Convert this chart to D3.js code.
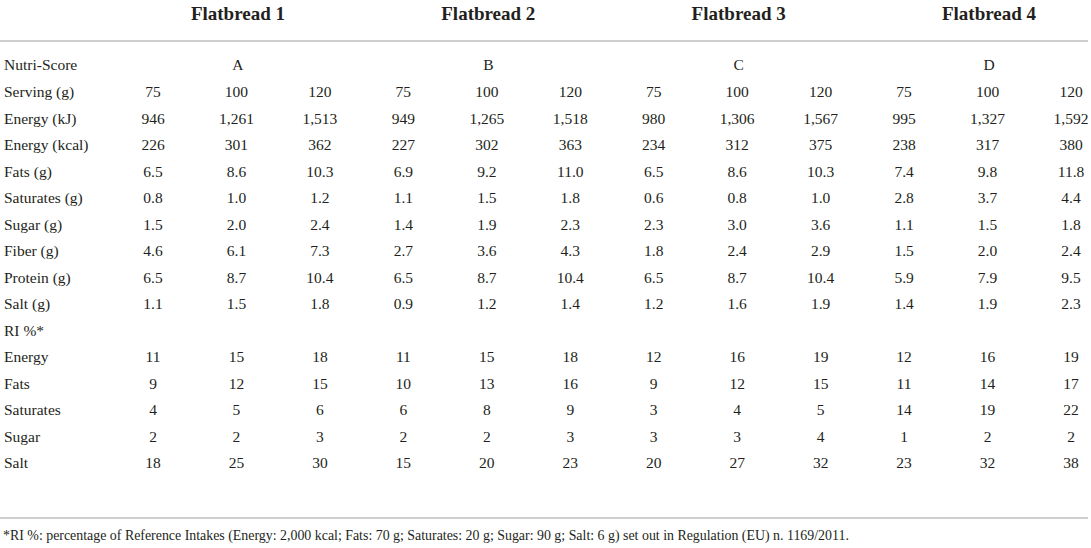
<!DOCTYPE html>
<html>
<head>
<meta charset="utf-8">
<script src="https://cdn.jsdelivr.net/npm/d3@7/dist/d3.min.js"></script>
<style>
  html, body { margin: 0; padding: 0; background: #fff; }
  svg { display: block; }
  text { font-family: "Liberation Serif", "DejaVu Serif", serif; fill: #231f20; }
</style>
</head>
<body>
<svg id="chart" width="1091" height="548"></svg>
<script>
// ---- data ----
const flatbreads = ["Flatbread 1", "Flatbread 2", "Flatbread 3", "Flatbread 4"];
const nutriScores = ["A", "B", "C", "D"];
const servings = [75, 100, 120];

const nutrientLabels = ["Energy (kJ)", "Energy (kcal)", "Fats (g)", "Saturates (g)", "Sugar (g)", "Fiber (g)", "Protein (g)", "Salt (g)"];
const nutrientFormats = [",", "d", ".1f", ".1f", ".1f", ".1f", ".1f", ".1f"];
const energyKJ   = [946, 1261, 1513, 949, 1265, 1518, 980, 1306, 1567, 995, 1327, 1592];
const energyKcal = [226, 301, 362, 227, 302, 363, 234, 312, 375, 238, 317, 380];
const fats       = [6.5, 8.6, 10.3, 6.9, 9.2, 11.0, 6.5, 8.6, 10.3, 7.4, 9.8, 11.8];
const saturates  = [0.8, 1.0, 1.2, 1.1, 1.5, 1.8, 0.6, 0.8, 1.0, 2.8, 3.7, 4.4];
const sugar      = [1.5, 2.0, 2.4, 1.4, 1.9, 2.3, 2.3, 3.0, 3.6, 1.1, 1.5, 1.8];
const fiber      = [4.6, 6.1, 7.3, 2.7, 3.6, 4.3, 1.8, 2.4, 2.9, 1.5, 2.0, 2.4];
const protein    = [6.5, 8.7, 10.4, 6.5, 8.7, 10.4, 6.5, 8.7, 10.4, 5.9, 7.9, 9.5];
const salt       = [1.1, 1.5, 1.8, 0.9, 1.2, 1.4, 1.2, 1.6, 1.9, 1.4, 1.9, 2.3];

const riLabels = ["Energy", "Fats", "Saturates", "Sugar", "Salt"];
const riEnergy    = [11, 15, 18, 11, 15, 18, 12, 16, 19, 12, 16, 19];
const riFats      = [9, 12, 15, 10, 13, 16, 9, 12, 15, 11, 14, 17];
const riSaturates = [4, 5, 6, 6, 8, 9, 3, 4, 5, 14, 19, 22];
const riSugar     = [2, 2, 3, 2, 2, 3, 3, 3, 4, 1, 2, 2];
const riSalt      = [18, 25, 30, 15, 20, 23, 20, 27, 32, 23, 32, 38];

const footnote = "*RI %: percentage of Reference Intakes (Energy: 2,000 kcal; Fats: 70 g; Saturates: 20 g; Sugar: 90 g; Salt: 6 g) set out in Regulation (EU) n. 1169/2011.";

// ---- build rows ----
const nutrientValues = [energyKJ, energyKcal, fats, saturates, sugar, fiber, protein, salt];
const riValues = [riEnergy, riFats, riSaturates, riSugar, riSalt];

const columns = [];
flatbreads.forEach((f, fi) => servings.forEach(s => columns.push({ fb: fi, serving: s })));

const rows = [];
rows.push({ label: "Nutri-Score", type: "score" });
rows.push({ label: "Serving (g)", cells: columns.map(c => String(c.serving)) });
nutrientLabels.forEach((l, i) => rows.push({ label: l, cells: nutrientValues[i].map(v => d3.format(nutrientFormats[i])(v)) }));
rows.push({ label: "RI %*", cells: [] });
riLabels.forEach((l, i) => rows.push({ label: l, cells: riValues[i].map(v => d3.format("d")(v)) }));

// ---- layout ----
const svg = d3.select("#chart");

const x = d3.scalePoint().domain(d3.range(columns.length)).range([153, 1071]);
const y = d3.scalePoint().domain(d3.range(rows.length)).range([65, 463]);
const fbCenter = fi => x(fi * 3 + 1);

// header titles
svg.selectAll("text.title").data(flatbreads).join("text")
  .attr("class", "title")
  .attr("x", (d, i) => fbCenter(i) + 1.5)
  .attr("y", 13)
  .attr("dy", "0.35em")
  .attr("text-anchor", "middle")
  .style("font-size", "19px")
  .style("font-weight", "bold")
  .text(d => d);

// rules
svg.append("line").attr("x1", 0).attr("x2", 1088).attr("y1", 41).attr("y2", 41)
  .attr("stroke", "#cfcfcf").attr("stroke-width", 2);
svg.append("line").attr("x1", 0).attr("x2", 1088).attr("y1", 518).attr("y2", 518)
  .attr("stroke", "#cfcfcf").attr("stroke-width", 2);

// row labels
const rowG = svg.selectAll("g.row").data(rows).join("g")
  .attr("class", "row")
  .attr("transform", (d, i) => `translate(0,${y(i)})`);

rowG.append("text")
  .attr("x", 4)
  .attr("dy", "0.35em")
  .style("font-size", "15.5px")
  .text(d => d.label);

rowG.filter(d => d.type === "score").selectAll("text.cell").data(nutriScores).join("text")
  .attr("class", "cell")
  .attr("x", (d, i) => fbCenter(i) + 1.5)
  .attr("dy", "0.35em")
  .attr("text-anchor", "middle")
  .style("font-size", "15.5px")
  .text(d => d);

rowG.filter(d => d.cells).selectAll("text.cell").data(d => d.cells).join("text")
  .attr("class", "cell")
  .attr("x", (d, i) => x(i))
  .attr("dy", "0.35em")
  .attr("text-anchor", "middle")
  .style("font-size", "15.5px")
  .text(d => d);

// footnote
svg.append("text")
  .attr("x", 3)
  .attr("y", 535)
  .attr("dy", "0.35em")
  .style("font-size", "13.9px")
  .text(footnote);
</script>
</body>
</html>
